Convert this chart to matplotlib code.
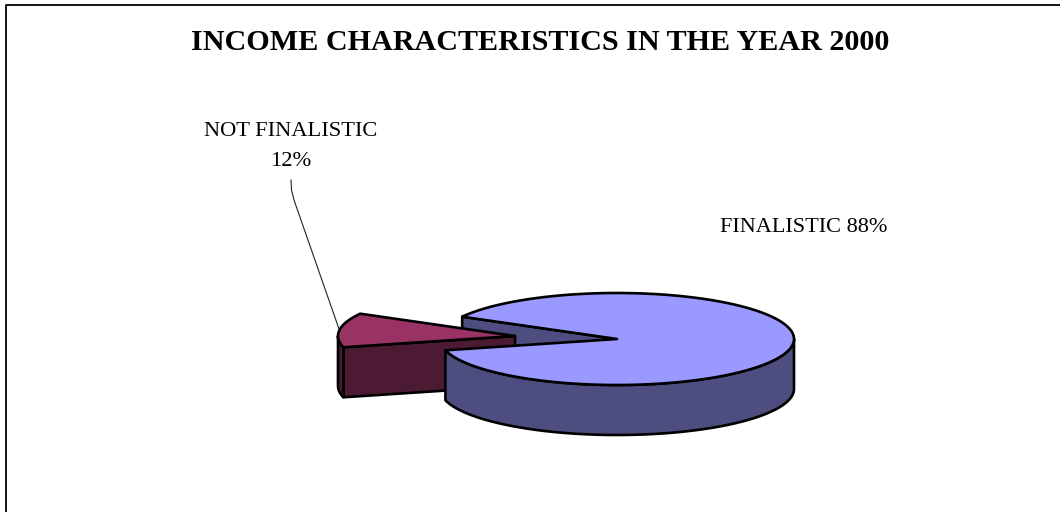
import numpy as np
import matplotlib
matplotlib.use('Agg')
import matplotlib.pyplot as plt
from matplotlib.patches import Polygon

title = 'INCOME CHARACTERISTICS IN THE YEAR 2000'
categories = ['FINALISTIC', 'NOT FINALISTIC']
values = [88, 12]

# pie geometry, in pixels of the 1060x512 picture
RX, RY, DEPTH = 177, 46, 50
BIG_CENTER = (617, 339)
SMALL_CENTER = (515, 336)
START_ANGLE = 151  # where the small slice starts, going anticlockwise
LW = 1.9

plt.rcParams['font.family'] = ['Liberation Serif', 'DejaVu Serif']


def rim(center, a0, a1, n=200):
    a = np.radians(np.linspace(a0, a1, n))
    return np.column_stack((center[0] + RX * np.cos(a), center[1] - RY * np.sin(a)))


def down(pts):
    return pts + np.array([0, DEPTH])


def face(ax, pts, color, z):
    ax.add_patch(Polygon(pts, closed=True, facecolor=color, edgecolor='black',
                         linewidth=LW, joinstyle='round', zorder=z))


fig = plt.figure(figsize=(10.6, 5.12), dpi=100)
ax = fig.add_axes([0, 0, 1, 1])
ax.set_xlim(0, 1060)
ax.set_ylim(512, 0)
ax.axis('off')

# chart frame, open at right and bottom
ax.plot([6, 6, 1060], [512, 5, 5], color='black', lw=1.3, zorder=1)

small_span = values[1] / sum(values) * 360
a0 = START_ANGLE
a1 = START_ANGLE + small_span

# back cut of the big slice, seen through the gap
back = np.vstack((rim(BIG_CENTER, a0, a0, 1), [BIG_CENTER]))
face(ax, np.vstack((back, down(back)[::-1])), '#4d4d80', 2)

# small slice
small_top = np.vstack(([SMALL_CENTER], rim(SMALL_CENTER, a0, a1)))
cut = np.vstack((rim(SMALL_CENTER, a1, a1, 1), [SMALL_CENTER]))
face(ax, np.vstack((cut, down(cut)[::-1])), '#4d1a33', 3)
edge = rim(SMALL_CENTER, 180, a1, 40)
face(ax, np.vstack((edge, down(edge)[::-1])), '#4d1a33', 3)
face(ax, small_top, '#993366', 4)

# big slice
side = rim(BIG_CENTER, a1, 360)
face(ax, np.vstack((side, down(side)[::-1])), '#4d4d80', 5)
big_top = np.vstack(([BIG_CENTER], rim(BIG_CENTER, a1, a0 + 360, 400)))
face(ax, big_top, '#9999ff', 6)

# labels
ax.text(540, 42.5, title, fontsize=21.7, fontweight='bold', ha='center', va='center', color='black')
ax.text(291, 131.5, categories[1], fontsize=16.2, ha='center', va='center', color='black')
ax.text(291, 161.5, f'{values[1]}%', fontsize=16.2, ha='center', va='center', color='black')
ax.text(803.5, 227.5, f'{categories[0]} {values[0]}%', fontsize=16, ha='center', va='center', color='black')

# leader line
ax.plot([291, 291.5, 294, 339], [180, 190, 200, 329], color='#222222', lw=0.8, zorder=2)

fig.savefig('out.png', dpi=100, facecolor='white')
